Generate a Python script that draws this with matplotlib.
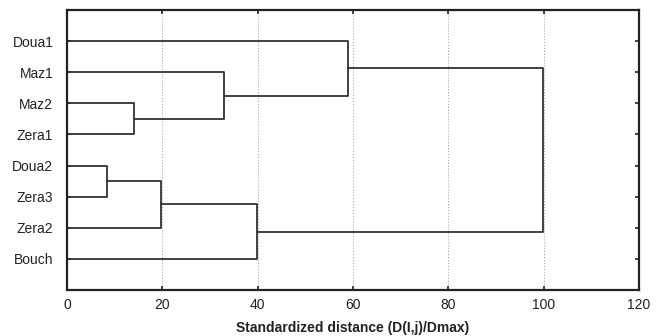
import matplotlib
matplotlib.use('Agg')
import matplotlib.pyplot as plt

# leaves, top to bottom
leaves = ['Doua1', 'Maz1', 'Maz2', 'Zera1', 'Doua2', 'Zera3', 'Zera2', 'Bouch']
# merges: (left cluster, right cluster, linkage distance)
merges = [
    ('Doua2', 'Zera3', 8.4),
    ('Maz2', 'Zera1', 14.0),
    ('c0', 'Zera2', 19.7),
    ('Maz1', 'c1', 33.0),
    ('c2', 'Bouch', 39.9),
    ('Doua1', 'c3', 59.0),
    ('c5', 'c4', 99.8),
]

plt.rcParams['font.family'] = ['Liberation Sans', 'DejaVu Sans']

fig = plt.figure(figsize=(6.65, 3.36), dpi=100)
ax = fig.add_axes([0.101, 0.137, 0.860, 0.833])

line_kw = dict(color='#333333', lw=1.3)

pos = {name: (i + 1, 0.0) for i, name in enumerate(leaves)}
for k, (a, b, d) in enumerate(merges):
    ya, xa = pos[a]
    yb, xb = pos[b]
    ax.plot([xa, d, d, xb], [ya, ya, yb, yb], **line_kw)
    pos['c%d' % k] = ((ya + yb) / 2, d)

ax.set_xlim(0, 120)
ax.set_ylim(len(leaves) + 1, 0)
ax.set_xticks(range(0, 121, 20))
ax.set_yticks(range(1, len(leaves) + 1))
ax.set_yticklabels(leaves)
ax.xaxis.grid(True, linestyle=':', color='#aaaaaa', lw=0.8)
ax.set_axisbelow(True)

ax.tick_params(axis='both', direction='in', length=3, width=1.2, colors='#222222',
               labelsize=10, top=True, right=True)
ax.tick_params(axis='y', pad=10)
ax.tick_params(axis='x', pad=6)
for s in ax.spines.values():
    s.set_linewidth(1.6)
    s.set_color('#222222')

ax.set_xlabel('Standardized distance (D(I,j)/Dmax)', fontsize=10,
              fontweight='bold', labelpad=6, color='#222222')

fig.savefig('out.png', dpi=100)
